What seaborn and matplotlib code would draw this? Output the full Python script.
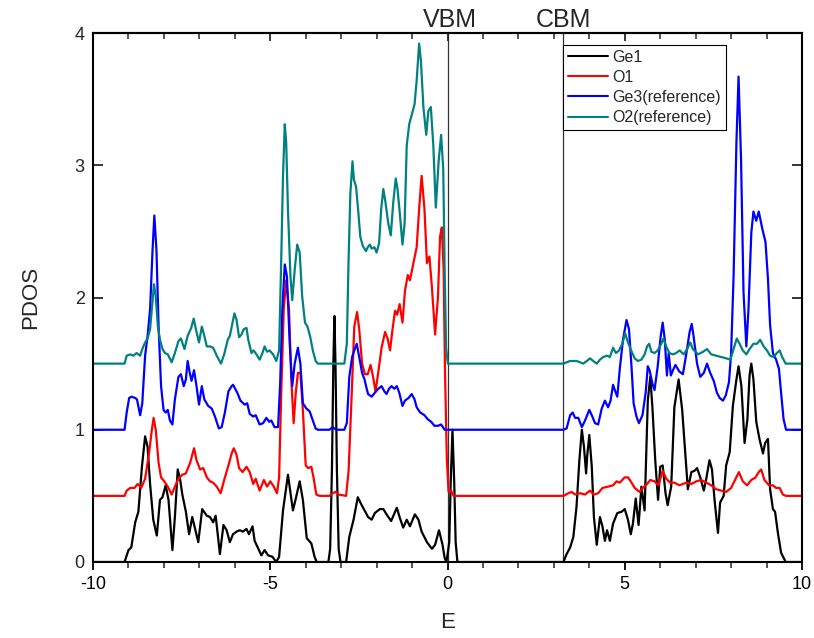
import numpy as np
import pandas as pd
import matplotlib
matplotlib.use("Agg")
import matplotlib.pyplot as plt
import seaborn as sns
from matplotlib.ticker import MultipleLocator

# ---------------- data ----------------
series_names = ["Ge1", "O1", "Ge3(reference)", "O2(reference)"]
series_colors = ["#000000", "#FF0000", "#0000FF", "#008080"]

ge1_E = [-10, -9.11, -9.0, -8.92, -8.81, -8.72, -8.62, -8.53, -8.46, -8.39, -8.30, -8.20, -8.11, -8.04,
         -7.95, -7.87, -7.76, -7.69, -7.61, -7.54, -7.48, -7.38, -7.29, -7.20, -7.12, -7.03, -6.92, -6.79,
         -6.70, -6.61, -6.54, -6.42, -6.32, -6.23, -6.14, -6.05, -5.95, -5.86, -5.77, -5.67, -5.60, -5.50,
         -5.44, -5.32, -5.25, -5.16, -5.06, -4.94, -4.83, -4.75, -4.64, -4.50, -4.36, -4.27, -4.17, -4.08,
         -3.97, -3.84, -3.75, -3.69, -3.36, -3.31, -3.26, -3.22, -3.19, -3.16, -3.12, -3.07, -3.02, -2.86,
         -2.77, -2.65, -2.53, -2.44, -2.34, -2.24, -2.14, -2.05, -1.91, -1.81, -1.72, -1.59, -1.43, -1.34,
         -1.25, -1.15, -1.06, -0.92, -0.82, -0.73, -0.58, -0.44, -0.35, -0.24, -0.14, -0.08, -0.03, 0.05,
         0.09, 0.14, 0.19, 0.23, 0.28, 3.27, 3.36, 3.46, 3.55, 3.64, 3.72, 3.79, 3.85, 3.91, 3.94, 4.0,
         4.07, 4.13, 4.21, 4.30, 4.37, 4.44, 4.50, 4.58, 4.67, 4.79, 4.91, 5.0, 5.09, 5.17, 5.23, 5.31,
         5.39, 5.47, 5.56, 5.65, 5.72, 5.78, 5.86, 5.94, 6.0, 6.07, 6.15, 6.21, 6.31, 6.40, 6.52, 6.62,
         6.72, 6.78, 6.88, 6.97, 7.04, 7.13, 7.23, 7.30, 7.39, 7.46, 7.54, 7.63, 7.69, 7.79, 7.86, 7.96,
         8.05, 8.15, 8.21, 8.29, 8.38, 8.46, 8.52, 8.57, 8.63, 8.71, 8.80, 8.90, 8.96, 9.04, 9.10, 9.18,
         9.24, 9.32, 9.41, 9.54, 10]
ge1_V = [0, 0, 0.09, 0.11, 0.30, 0.38, 0.72, 0.95, 0.87, 0.59, 0.32, 0.20, 0.47, 0.49,
         0.58, 0.47, 0.09, 0.34, 0.70, 0.62, 0.51, 0.38, 0.21, 0.34, 0.25, 0.15, 0.40, 0.35,
         0.34, 0.30, 0.35, 0.06, 0.28, 0.24, 0.15, 0.21, 0.23, 0.24, 0.23, 0.25, 0.21, 0.27,
         0.16, 0.09, 0.05, 0.09, 0.05, 0.04, 0.0, 0.04, 0.39, 0.66, 0.39, 0.49, 0.61, 0.47,
         0.18, 0.14, 0.04, 0, 0, 0.10, 0.70, 1.50, 1.86, 1.50, 0.70, 0.10, 0, 0,
         0.19, 0.32, 0.49, 0.44, 0.39, 0.34, 0.32, 0.37, 0.40, 0.40, 0.36, 0.31, 0.41, 0.33,
         0.26, 0.32, 0.27, 0.36, 0.32, 0.23, 0.15, 0.10, 0.13, 0.24, 0.13, 0.03, 0, 0.15,
         0.60, 1.0, 0.60, 0.15, 0, 0, 0.06, 0.11, 0.19, 0.42, 0.77, 1.00, 0.87, 0.67, 0.80, 0.96,
         0.72, 0.34, 0.13, 0.34, 0.27, 0.16, 0.24, 0.16, 0.29, 0.37, 0.38, 0.40, 0.32, 0.21, 0.29, 0.48,
         0.28, 0.57, 0.39, 1.22, 1.40, 1.17, 0.77, 0.47, 0.72, 0.73, 0.52, 0.43, 0.57, 1.17, 1.38, 1.15,
         0.78, 0.55, 0.68, 0.69, 0.71, 0.64, 0.54, 0.63, 0.77, 0.70, 0.45, 0.22, 0.45, 0.50, 0.73, 0.83,
         1.18, 1.38, 1.48, 1.33, 0.90, 1.08, 1.41, 1.50, 1.38, 1.06, 0.93, 0.82, 0.90, 0.93, 0.55, 0.40,
         0.38, 0.22, 0.07, 0, 0]

o1_E = [-10, -9.11, -9.05, -8.95, -8.83, -8.74, -8.64, -8.53, -8.42, -8.34, -8.29, -8.23, -8.15, -8.08,
        -7.99, -7.89, -7.78, -7.69, -7.59, -7.48, -7.38, -7.26, -7.15, -7.08, -6.98, -6.89, -6.79, -6.70,
        -6.61, -6.51, -6.40, -6.30, -6.18, -6.09, -6.03, -5.95, -5.88, -5.78, -5.67, -5.58, -5.48, -5.41,
        -5.30, -5.18, -5.09, -5.0, -4.90, -4.81, -4.75, -4.69, -4.62, -4.55, -4.47, -4.41, -4.34, -4.28,
        -4.22, -4.15, -4.08, -4.00, -3.93, -3.84, -3.78, -3.70, -3.61, -3.33, -3.24, -3.16, -3.07, -2.86,
        -2.79, -2.69, -2.63, -2.55, -2.49, -2.41, -2.33, -2.25, -2.17, -2.10, -2.03, -1.95, -1.86, -1.76,
        -1.69, -1.62, -1.56, -1.48, -1.42, -1.35, -1.27, -1.20, -1.12, -1.06, -0.96, -0.87, -0.80, -0.73,
        -0.65, -0.58, -0.51, -0.44, -0.35, -0.27, -0.21, -0.16, -0.11, -0.07, -0.02, 0.03, 0.10, 0.17,
        3.27, 3.41, 3.50, 3.60, 3.74, 3.88, 4.02, 4.13, 4.25, 4.37, 4.53, 4.67, 4.77, 4.86, 5.0, 5.09,
        5.17, 5.28, 5.42, 5.51, 5.63, 5.72, 5.84, 5.95, 6.07, 6.17, 6.28, 6.40, 6.54, 6.74, 6.88, 7.02,
        7.16, 7.30, 7.44, 7.58, 7.72, 7.86, 8.0, 8.13, 8.22, 8.33, 8.45, 8.57, 8.69, 8.78, 8.85, 8.94,
        9.07, 9.18, 9.27, 9.37, 9.46, 9.55, 10]
o1_V = [0.5, 0.5, 0.54, 0.56, 0.56, 0.59, 0.56, 0.63, 0.82, 1.0, 1.09, 1.0, 0.75, 0.64,
        0.61, 0.57, 0.51, 0.57, 0.63, 0.66, 0.67, 0.75, 0.86, 0.77, 0.70, 0.71, 0.64, 0.61,
        0.60, 0.57, 0.52, 0.62, 0.73, 0.82, 0.86, 0.81, 0.71, 0.68, 0.72, 0.68, 0.59, 0.63,
        0.54, 0.62, 0.57, 0.61, 0.57, 0.52, 0.64, 1.28, 1.91, 2.13, 1.91, 1.40, 1.05, 1.28,
        1.43, 1.43, 1.15, 0.73, 0.71, 0.72, 0.64, 0.51, 0.50, 0.5, 0.52, 0.53, 0.51, 0.5,
        0.69, 1.35, 1.78, 1.89, 1.76, 1.50, 1.42, 1.42, 1.49, 1.40, 1.29, 1.44, 1.62, 1.74,
        1.69, 1.60, 1.74, 1.90, 1.87, 1.95, 1.81, 2.05, 2.17, 2.13, 2.26, 2.38, 2.67, 2.92,
        2.67, 2.26, 2.31, 2.08, 1.72, 2.0, 2.46, 2.53, 2.21, 1.44, 0.79, 0.53, 0.54, 0.5,
        0.5, 0.52, 0.53, 0.51, 0.52, 0.51, 0.54, 0.51, 0.52, 0.56, 0.57, 0.58, 0.61, 0.60, 0.64, 0.64,
        0.61, 0.56, 0.53, 0.56, 0.59, 0.62, 0.61, 0.58, 0.69, 0.63, 0.60, 0.60, 0.58, 0.60, 0.59, 0.61,
        0.62, 0.60, 0.58, 0.55, 0.54, 0.53, 0.56, 0.63, 0.68, 0.61, 0.58, 0.62, 0.64, 0.68, 0.70, 0.62,
        0.58, 0.58, 0.56, 0.56, 0.51, 0.5, 0.5]

ge3_E = [-10, -9.11, -9.05, -8.98, -8.91, -8.81, -8.76, -8.67, -8.61, -8.53, -8.46, -8.39, -8.32, -8.27,
         -8.21, -8.15, -8.08, -8.01, -7.95, -7.89, -7.83, -7.76, -7.69, -7.59, -7.52, -7.44, -7.38, -7.33,
         -7.27, -7.22, -7.15, -7.08, -7.01, -6.93, -6.86, -6.75, -6.65, -6.56, -6.45, -6.37, -6.28, -6.18,
         -6.09, -6.05, -5.93, -5.84, -5.72, -5.65, -5.58, -5.48, -5.41, -5.30, -5.20, -5.11, -5.03, -4.97,
         -4.88, -4.78, -4.72, -4.66, -4.59, -4.53, -4.45, -4.38, -4.31, -4.22, -4.15, -4.08, -3.98, -3.89,
         -3.80, -3.72, -3.66, -3.33, -3.24, -3.14, -2.91, -2.84, -2.77, -2.69, -2.63, -2.56, -2.49, -2.41,
         -2.34, -2.28, -2.24, -2.14, -2.05, -1.95, -1.86, -1.78, -1.72, -1.65, -1.58, -1.50, -1.43, -1.36,
         -1.27, -1.20, -1.10, -1.01, -0.93, -0.87, -0.77, -0.65, -0.56, -0.46, -0.37, -0.27, -0.18, -0.08,
         3.27, 3.36, 3.46, 3.53, 3.60, 3.69, 3.79, 3.88, 4.0, 4.07, 4.16, 4.25, 4.35, 4.44, 4.53, 4.60,
         4.67, 4.72, 4.79, 4.86, 4.95, 5.05, 5.12, 5.19, 5.25, 5.33, 5.40, 5.50, 5.59, 5.65, 5.70, 5.78,
         5.84, 5.93, 6.01, 6.07, 6.13, 6.19, 6.24, 6.30, 6.36, 6.43, 6.54, 6.64, 6.74, 6.83, 6.89, 6.94,
         7.04, 7.13, 7.23, 7.32, 7.41, 7.51, 7.60, 7.68, 7.77, 7.85, 7.94, 8.0, 8.07, 8.15, 8.21, 8.28,
         8.35, 8.43, 8.49, 8.57, 8.63, 8.71, 8.78, 8.88, 8.97, 9.04, 9.10, 9.18, 9.27, 9.35, 9.41, 9.48,
         9.55, 10]
ge3_V = [1.0, 1.0, 1.13, 1.24, 1.25, 1.24, 1.23, 1.11, 1.20, 1.56, 1.71, 1.91, 2.36, 2.62,
         2.36, 1.78, 1.33, 1.15, 1.13, 1.15, 1.07, 1.04, 1.23, 1.40, 1.42, 1.33, 1.38, 1.52,
         1.43, 1.37, 1.45, 1.33, 1.19, 1.33, 1.23, 1.18, 1.16, 1.10, 1.01, 1.02, 1.13, 1.29,
         1.33, 1.34, 1.28, 1.22, 1.19, 1.20, 1.12, 1.10, 1.11, 1.04, 1.05, 1.09, 1.06, 1.07,
         1.02, 1.02, 1.35, 1.91, 2.25, 2.16, 1.65, 1.33, 1.50, 1.62, 1.50, 1.20, 1.16, 1.14,
         1.07, 1.01, 1.0, 1.0, 1.02, 1.0, 1.0, 1.05, 1.40, 1.55, 1.60, 1.65, 1.55, 1.43,
         1.38, 1.31, 1.27, 1.25, 1.28, 1.31, 1.33, 1.29, 1.27, 1.31, 1.33, 1.31, 1.33, 1.28,
         1.18, 1.22, 1.24, 1.27, 1.23, 1.17, 1.13, 1.11, 1.08, 1.06, 1.03, 1.03, 1.04, 1.0,
         1.0, 1.01, 1.11, 1.13, 1.09, 1.09, 1.02, 1.07, 1.15, 1.11, 1.05, 1.04, 1.16, 1.22, 1.17, 1.22,
         1.34, 1.30, 1.25, 1.46, 1.68, 1.83, 1.76, 1.48, 1.20, 1.10, 1.05, 1.11, 1.28, 1.48, 1.45, 1.35,
         1.30, 1.48, 1.70, 1.81, 1.68, 1.41, 1.58, 1.41, 1.45, 1.49, 1.44, 1.42, 1.58, 1.74, 1.80, 1.71,
         1.50, 1.40, 1.43, 1.50, 1.43, 1.37, 1.28, 1.24, 1.22, 1.26, 1.36, 1.58, 2.16, 3.17, 3.67, 3.05,
         2.04, 1.63, 1.91, 2.49, 2.65, 2.58, 2.65, 2.52, 2.42, 2.14, 1.79, 1.58, 1.53, 1.46, 1.28, 1.08,
         1.0, 1.0]

o2_E = [-10, -9.11, -9.05, -8.95, -8.86, -8.77, -8.67, -8.61, -8.53, -8.46, -8.39, -8.32, -8.28, -8.23,
        -8.17, -8.11, -8.04, -7.97, -7.89, -7.78, -7.69, -7.59, -7.52, -7.42, -7.33, -7.23, -7.16, -7.08,
        -7.01, -6.93, -6.86, -6.79, -6.70, -6.61, -6.51, -6.39, -6.30, -6.20, -6.14, -6.07, -6.01, -5.95,
        -5.88, -5.81, -5.75, -5.67, -5.62, -5.53, -5.47, -5.39, -5.30, -5.22, -5.16, -5.09, -5.02, -4.92,
        -4.83, -4.75, -4.69, -4.64, -4.59, -4.55, -4.50, -4.43, -4.38, -4.31, -4.24, -4.17, -4.10, -4.02,
        -3.95, -3.87, -3.80, -3.72, -3.66, -2.91, -2.84, -2.79, -2.74, -2.68, -2.64, -2.58, -2.52, -2.46,
        -2.39, -2.30, -2.25, -2.19, -2.14, -2.06, -2.0, -1.93, -1.87, -1.81, -1.75, -1.67, -1.60, -1.53,
        -1.46, -1.41, -1.34, -1.27, -1.21, -1.15, -1.08, -1.01, -0.93, -0.87, -0.80, -0.75, -0.68, -0.60,
        -0.54, -0.47, -0.40, -0.33, -0.25, -0.18, -0.12, -0.08, -0.04, 0.01, 3.27, 3.36, 3.46, 3.55,
        3.64, 3.74, 3.83, 3.93, 4.02, 4.11, 4.21, 4.30, 4.39, 4.50, 4.58, 4.67, 4.75, 4.84, 4.93, 5.01,
        5.08, 5.18, 5.28, 5.37, 5.47, 5.56, 5.63, 5.69, 5.75, 5.84, 5.93, 6.03, 6.09, 6.17, 6.26, 6.36,
        6.45, 6.55, 6.66, 6.76, 6.85, 6.92, 7.07, 7.21, 7.32, 7.44, 7.58, 7.72, 7.86, 7.98, 8.07, 8.16,
        8.24, 8.33, 8.43, 8.52, 8.63, 8.73, 8.82, 8.92, 9.01, 9.10, 9.20, 9.29, 9.37, 9.44, 9.54, 10]
o2_V = [1.5, 1.5, 1.56, 1.57, 1.56, 1.58, 1.56, 1.61, 1.66, 1.69, 1.76, 1.98, 2.10, 2.01,
        1.78, 1.68, 1.61, 1.58, 1.57, 1.51, 1.58, 1.67, 1.69, 1.61, 1.71, 1.77, 1.84, 1.74,
        1.66, 1.78, 1.71, 1.63, 1.63, 1.62, 1.56, 1.50, 1.57, 1.68, 1.71, 1.80, 1.88, 1.83,
        1.70, 1.72, 1.76, 1.77, 1.68, 1.58, 1.60, 1.57, 1.53, 1.58, 1.63, 1.59, 1.60, 1.57,
        1.52, 1.60, 2.29, 2.92, 3.31, 3.17, 2.66, 2.16, 1.98, 2.21, 2.40, 2.34, 2.01, 1.81,
        1.78, 1.70, 1.60, 1.52, 1.50, 1.50, 1.65, 2.29, 2.79, 3.03, 2.89, 2.84, 2.66, 2.46,
        2.39, 2.35, 2.38, 2.40, 2.37, 2.38, 2.34, 2.41, 2.67, 2.82, 2.72, 2.56, 2.47, 2.72,
        2.90, 2.82, 2.62, 2.40, 2.56, 3.15, 3.31, 3.38, 3.46, 3.64, 3.92, 3.79, 3.44, 3.23,
        3.41, 3.44, 3.15, 2.68, 3.03, 3.23, 2.97, 2.21, 1.62, 1.5, 1.5, 1.51, 1.52, 1.52,
        1.52, 1.51, 1.50, 1.52, 1.54, 1.52, 1.50, 1.53, 1.55, 1.56, 1.55, 1.62, 1.58, 1.60, 1.65, 1.73,
        1.67, 1.60, 1.54, 1.52, 1.53, 1.57, 1.63, 1.65, 1.59, 1.58, 1.60, 1.65, 1.69, 1.63, 1.58, 1.57,
        1.58, 1.60, 1.57, 1.61, 1.66, 1.61, 1.57, 1.59, 1.61, 1.57, 1.56, 1.55, 1.54, 1.53, 1.61, 1.69,
        1.65, 1.60, 1.57, 1.61, 1.65, 1.65, 1.68, 1.63, 1.60, 1.56, 1.55, 1.58, 1.60, 1.55, 1.5, 1.5]

vbm_E = 0.0
cbm_E = 3.27
x_ticks = [-10, -5, 0, 5, 10]
y_ticks = [0, 1, 2, 3, 4]

# ---------------- figure ----------------
sns.set_theme(style="ticks")
plt.rcParams["font.family"] = ["Liberation Sans", "DejaVu Sans"]

fig = plt.figure(figsize=(8.14, 6.38), dpi=100)
ax = fig.add_axes([93 / 814, 76 / 638, 709 / 814, 529 / 638])

all_E = [ge1_E, o1_E, ge3_E, o2_E]
all_V = [ge1_V, o1_V, ge3_V, o2_V]
for name, col, E, V in zip(series_names, series_colors, all_E, all_V):
    df = pd.DataFrame({"E": E, "PDOS": V})
    sns.lineplot(data=df, x="E", y="PDOS", ax=ax, color=col, lw=1.6,
                 label=name, sort=False, estimator=None)

ax.axvline(vbm_E, color="#333333", lw=0.9, zorder=0)
ax.axvline(cbm_E, color="#333333", lw=0.9, zorder=0)

ax.set_xlim(-10, 10)
ax.set_ylim(0, 4)
ax.set_xticks(x_ticks)
ax.set_yticks(y_ticks)
ax.xaxis.set_minor_locator(MultipleLocator(1))
ax.set_xticklabels([str(t) for t in x_ticks])

for sp in ax.spines.values():
    sp.set_visible(True)
    sp.set_linewidth(1.5)
    sp.set_color("black")

ax.tick_params(axis="x", which="major", direction="out", length=6, width=1.3,
               labelsize=13, pad=4, top=False, colors="black")
ax.tick_params(axis="x", which="minor", direction="out", length=4, width=1.1, top=False)
ax.tick_params(axis="y", which="major", direction="in", length=7, width=1.3,
               labelsize=13, pad=6, right=True)
# top ticks pointing inward
secx = ax.secondary_xaxis("top")
secx.set_xticks(x_ticks)
secx.xaxis.set_minor_locator(MultipleLocator(1))
secx.tick_params(axis="x", which="major", direction="in", length=6, width=1.3, labeltop=False)
secx.tick_params(axis="x", which="minor", direction="in", length=4, width=1.1)
secx.set_xticklabels([])
secx.spines["top"].set_linewidth(1.5)

ax.set_xlabel("E", fontsize=16, labelpad=14)
ax.set_ylabel("PDOS", fontsize=16, labelpad=24)

ax.text(vbm_E + 0.08, 1.024, "VBM", transform=ax.get_xaxis_transform(),
        ha="center", va="center", fontsize=18)
ax.text(cbm_E, 1.024, "CBM", transform=ax.get_xaxis_transform(),
        ha="center", va="center", fontsize=18)

leg = ax.legend(loc="upper left", bbox_to_anchor=((563 - 93) / 709, (562 - 45) / 529),
                borderaxespad=0, frameon=True, fancybox=False, fontsize=11.5,
                handlelength=2.5, handletextpad=0.3, labelspacing=0.32,
                borderpad=0.3, edgecolor="black", framealpha=1)
leg.get_frame().set_linewidth(0.8)
for line in leg.get_lines():
    line.set_linewidth(1.5)

fig.savefig("out.png", dpi=100)
